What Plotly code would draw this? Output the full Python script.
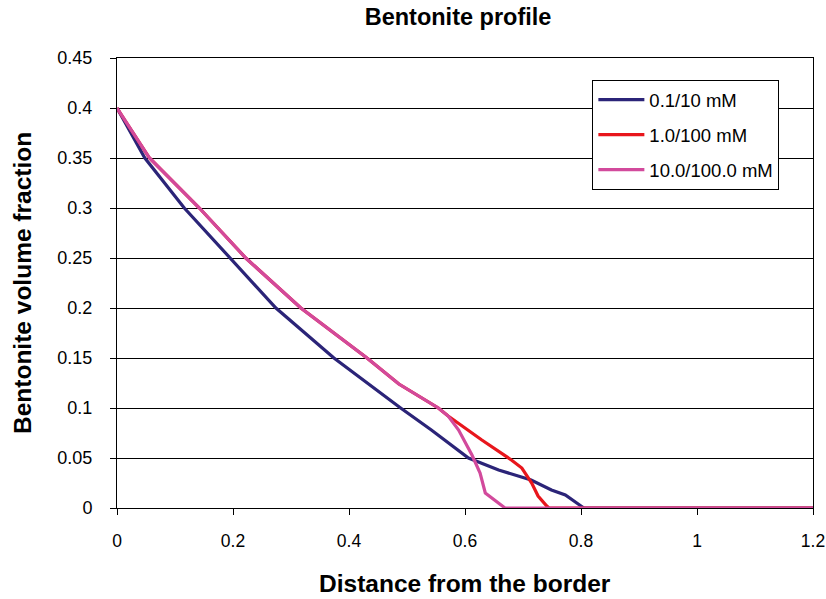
import plotly.graph_objects as go

# Bentonite volume fraction vs distance from the border, three electrolyte cases
x_01_10 = [0.0, 0.048, 0.116, 0.195, 0.274, 0.374, 0.489, 0.542, 0.606, 0.658,
           0.714, 0.749, 0.773, 0.800, 0.805, 1.2]
y_01_10 = [0.40, 0.35, 0.30, 0.25, 0.20, 0.15, 0.10, 0.078, 0.050, 0.038,
           0.028, 0.018, 0.013, 0.002, 0.0, 0.0]

x_10_100 = [0.0, 0.056, 0.142, 0.222, 0.317, 0.431, 0.486, 0.554, 0.571, 0.629,
            0.680, 0.698, 0.715, 0.726, 0.741, 0.745, 1.2]
y_10_100 = [0.40, 0.35, 0.30, 0.25, 0.20, 0.15, 0.124, 0.100, 0.092, 0.068,
            0.048, 0.040, 0.025, 0.012, 0.002, 0.0, 0.0]

x_100_1000 = [0.0, 0.056, 0.142, 0.222, 0.317, 0.431, 0.486, 0.554, 0.571, 0.589,
              0.612, 0.626, 0.635, 0.652, 0.669, 1.2]
y_100_1000 = [0.40, 0.35, 0.30, 0.25, 0.20, 0.15, 0.124, 0.100, 0.092, 0.078,
              0.053, 0.035, 0.015, 0.007, 0.0, 0.0]

series_names = ["0.1/10 mM", "1.0/100 mM", "10.0/100.0 mM"]
series_colors = ["#2B2478", "#E8161C", "#D24A9C"]

x_ticks = [0, 0.2, 0.4, 0.6, 0.8, 1.0, 1.2]
x_tick_text = ["0", "0.2", "0.4", "0.6", "0.8", "1", "1.2"]
y_ticks = [0, 0.05, 0.1, 0.15, 0.2, 0.25, 0.3, 0.35, 0.4, 0.45]
y_tick_text = ["0", "0.05", "0.1", "0.15", "0.2", "0.25", "0.3", "0.35", "0.4", "0.45"]

FONT = "Liberation Sans, Arial, sans-serif"

fig = go.Figure()
for i, (xs, ys) in enumerate([(x_01_10, y_01_10), (x_10_100, y_10_100),
                              (x_100_1000, y_100_1000)]):
    fig.add_trace(go.Scatter(
        x=xs, y=ys, mode="lines", name=series_names[i],
        legendgroup=f"g{i}",
        line=dict(color=series_colors[i], width=3.2),
    ))

fig.update_layout(
    width=826, height=599,
    margin=dict(l=117, r=13, t=58, b=91, autoexpand=False),
    paper_bgcolor="white", plot_bgcolor="white",
    font=dict(family=FONT, color="black", size=18),
    title=dict(text="<b>Bentonite profile</b>", x=0.49, xref="paper",
               y=1 - 17 / 599, yref="container", yanchor="middle",
               xanchor="center", font=dict(size=23.5, family=FONT)),
    showlegend=True,
    legend=dict(x=0.683, y=0.951, xanchor="left", yanchor="top",
                bgcolor="white", bordercolor="black", borderwidth=1,
                font=dict(size=18.5, family=FONT), tracegroupgap=8,
                traceorder="grouped", itemwidth=46),
)

fig.update_xaxes(
    range=[0, 1.2000001], tickvals=x_ticks, ticktext=x_tick_text,
    showgrid=False, zeroline=False, automargin=False,
    showline=True, linecolor="black", linewidth=1, mirror=True,
    ticks="outside", ticklen=6, tickcolor="black",
    ticklabelstandoff=11, ticklabeloverflow="allow",
    tickfont=dict(size=17.5),
)
fig.update_yaxes(
    range=[0, 0.4500001], tickvals=y_ticks, ticktext=y_tick_text,
    showgrid=True, gridcolor="black", gridwidth=1, zeroline=False, automargin=False,
    showline=True, linecolor="black", linewidth=1, mirror=True,
    ticks="outside", ticklen=6, tickcolor="black",
    ticklabelstandoff=14, ticklabeloverflow="allow",
)

fig.add_annotation(text="<b>Distance from the border</b>", xref="paper", yref="paper",
                   x=0.5, y=0, xanchor="center", yanchor="middle", yshift=-75,
                   showarrow=False, font=dict(size=24.5, family=FONT))
fig.add_annotation(text="<b>Bentonite volume fraction</b>", xref="paper", yref="paper",
                   x=0, y=0.5, xanchor="center", yanchor="middle", xshift=-95,
                   textangle=-90, showarrow=False, font=dict(size=24.5, family=FONT))

fig.write_html("out.html")
